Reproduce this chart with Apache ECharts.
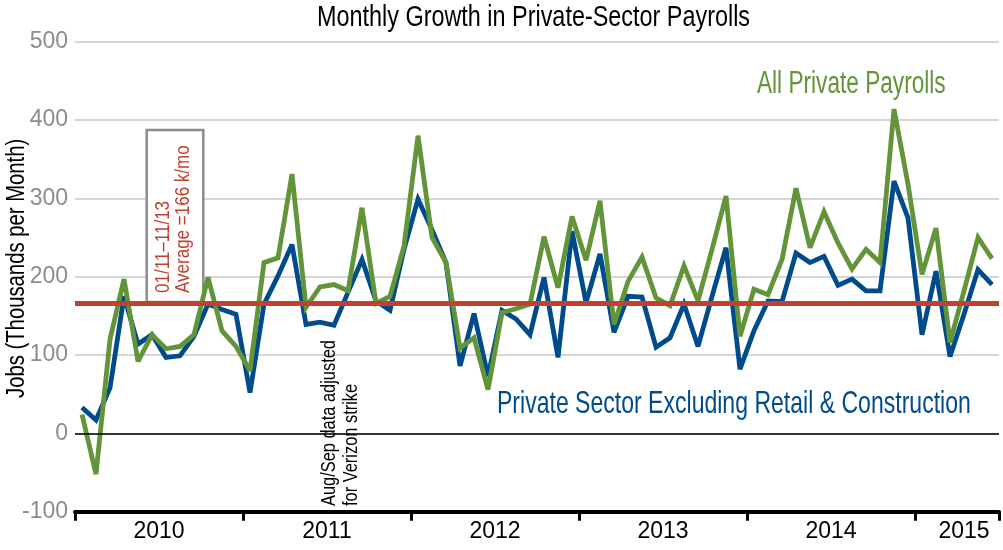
<!DOCTYPE html>
<html>
<head>
<meta charset="utf-8">
<title>Monthly Growth in Private-Sector Payrolls</title>
<script src="https://cdn.jsdelivr.net/npm/echarts@6/dist/echarts.min.js"></script>
<style>
  html, body { margin: 0; padding: 0; background: #fff; }
  #chart { width: 1003px; height: 550px; }
</style>
</head>
<body>
<div id="chart"></div>
<script>
var FONT = '"Liberation Sans", Arial, sans-serif';

// Jan 2010 .. Jun 2015, thousands of jobs per month
var years = ['2010', '2011', '2012', '2013', '2014', '2015'];
var monthsPerYear = [12, 12, 12, 12, 12, 6];
var monthNames = ['Jan','Feb','Mar','Apr','May','Jun','Jul','Aug','Sep','Oct','Nov','Dec'];

var allPrivate = [
  24, -52, 120, 197, 92, 126, 108, 111, 126, 199, 131, 111,
  80, 218, 224, 331, 161, 187, 190, 182, 288, 166, 175, 239,
  380, 250, 218, 109, 122, 56, 154, 159, 165, 251, 186, 277,
  221, 297, 139, 194, 225, 173, 163, 214, 169, 235, 303, 124,
  184, 177, 222, 313, 237, 283, 243, 210, 235, 218, 414, 318,
  203, 262, 116, 182, 250, 223
];
var exRetailConstr = [
  33, 17, 58, 175, 114, 126, 97, 99, 124, 165, 158, 152,
  52, 165, 201, 241, 139, 142, 138, 180, 222, 169, 157, 235,
  299, 260, 218, 86, 153, 73, 157, 146, 126, 199, 97, 258,
  167, 229, 129, 175, 174, 110, 122, 165, 111, 175, 237, 82,
  131, 169, 168, 230, 218, 226, 189, 197, 182, 182, 322, 275,
  126, 207, 98, 152, 209, 190
];
var average = 166;
var yTicks = [-100, 0, 100, 200, 300, 400, 500];

// category list and where each year label sits
var months = [];
var yearLabelAt = {};
var idx = 0;
for (var y = 0; y < years.length; y++) {
  yearLabelAt[idx + Math.floor(monthsPerYear[y] / 2)] = { text: years[y], full: monthsPerYear[y] === 12 };
  for (var m = 0; m < monthsPerYear[y]; m++) {
    months.push(monthNames[m] + ' ' + years[y]);
    idx++;
  }
}

// squeezed text for the free-standing labels (condensed look)
function label(text, x, y, size, squeeze, color, rotated) {
  return {
    type: 'text',
    z: 5,
    x: x, y: y,
    rotation: rotated ? Math.PI / 2 : 0,
    scaleX: squeeze,
    style: {
      text: text, fontFamily: FONT, fontSize: size, fill: color,
      textAlign: 'left', textVerticalAlign: 'middle'
    }
  };
}

var chart = echarts.init(document.getElementById('chart'));

var option = {
  animation: false,
  textStyle: { fontFamily: FONT },
  grid: { left: 75, right: 4, top: 41.7, bottom: 38.3, containLabel: false, outerBoundsMode: 'none' },
  xAxis: {
    type: 'category',
    data: months,
    boundaryGap: true,
    axisLine: { onZero: false, lineStyle: { color: '#000', width: 4 } },
    axisTick: {
      show: true,
      interval: function (i) { return i % 12 === 0; },
      length: 9,
      lineStyle: { color: '#000', width: 3 }
    },
    axisLabel: {
      interval: 0,
      margin: 8,
      formatter: function (v, i) {
        var lab = yearLabelAt[i];
        if (!lab) return '';
        return lab.full ? '{a|' + lab.text + '}' : '{b|' + lab.text + '}';
      },
      rich: {
        a: { fontFamily: FONT, fontSize: 23, color: '#000', padding: [0, 14, 0, 0] },
        b: { fontFamily: FONT, fontSize: 23, color: '#000' }
      }
    },
    splitLine: { show: false }
  },
  yAxis: {
    type: 'value',
    min: yTicks[0],
    max: yTicks[yTicks.length - 1],
    interval: 100,
    axisLine: { show: false },
    axisTick: { show: false },
    axisLabel: { fontFamily: FONT, fontSize: 23, color: '#8c8c8c', margin: 7 },
    splitLine: { lineStyle: { color: '#d6d6d6', width: 2 } }
  },
  series: [
    {
      name: 'reference lines',
      type: 'line',
      data: [],
      z: 1,
      silent: true,
      markLine: {
        silent: true,
        symbol: 'none',
        label: { show: false },
        data: [
          { yAxis: 0, lineStyle: { color: '#000', width: 1.5, type: 'solid' } },
          { yAxis: average, lineStyle: { color: '#c0412f', width: 5, type: 'solid' } }
        ]
      }
    },
    {
      name: 'All Private Payrolls',
      type: 'line',
      data: allPrivate,
      z: 3,
      showSymbol: false,
      symbol: 'none',
      lineStyle: { color: '#62943a', width: 4.8, join: 'miter', miterLimit: 3 }
    },
    {
      name: 'Private Sector Excluding Retail & Construction',
      type: 'line',
      data: exRetailConstr,
      z: 2,
      showSymbol: false,
      symbol: 'none',
      lineStyle: { color: '#004b8c', width: 4.8, join: 'miter', miterLimit: 3 }
    }
  ],
  graphic: [
    {
      type: 'rect',
      z: 1,
      shape: { x: 146.7, y: 130, width: 56.6, height: 172 },
      style: { fill: '#fff', stroke: '#8c8c8c', lineWidth: 2.5 }
    },
    label('Monthly Growth in Private-Sector Payrolls', 317, 18, 30, 0.78, '#000', false),
    label('Jobs (Thousands per Month)', 17, 398, 26, 0.78, '#000', true),
    label('01/11\u201311/13', 163, 293, 21, 0.81, '#c0412f', true),
    label('Average =166 k/mo', 183, 293, 21, 0.81, '#c0412f', true),
    label('Aug/Sep data adjusted', 329, 506, 20, 0.82, '#000', true),
    label('for Verizon strike', 351, 506, 20, 0.82, '#000', true),
    label('All Private Payrolls', 757, 84, 31, 0.73, '#62943a', false),
    label('Private Sector Excluding Retail & Construction', 497, 404, 32, 0.72, '#004b8c', false)
  ]
};

chart.setOption(option);
</script>
</body>
</html>
